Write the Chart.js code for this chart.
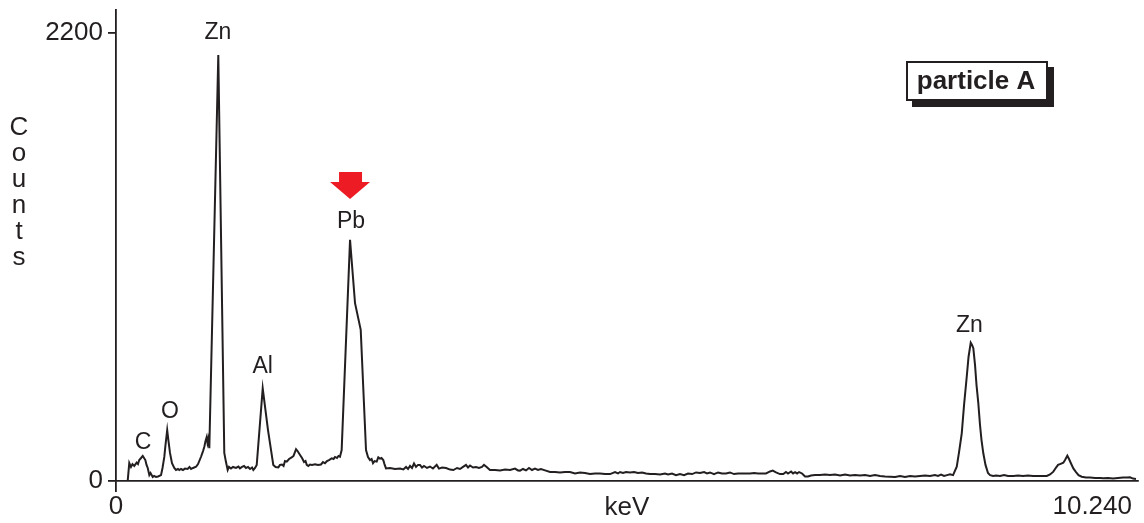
<!DOCTYPE html>
<html>
<head>
<meta charset="utf-8">
<script src="https://cdn.jsdelivr.net/npm/chart.js@4.4.1/dist/chart.umd.min.js"></script>
<style>
  html, body { margin: 0; padding: 0; background: #fff; }
  canvas { display: block; }
</style>
</head>
<body>
<canvas id="spectrum" width="1144" height="523"></canvas>
<script>
// EDS spectrum (keV vs counts)
const energyKeV = [
  0.117, 0.133, 0.150, 0.165, 0.183, 0.207, 0.220, 0.233, 0.251, 0.268, 0.281, 0.294, 0.306, 0.318,
  0.334, 0.346, 0.368, 0.381, 0.401, 0.421, 0.451, 0.466, 0.484, 0.496, 0.513, 0.526, 0.541, 0.561,
  0.584, 0.601, 0.621, 0.634, 0.651, 0.671, 0.691, 0.718, 0.736, 0.752, 0.772, 0.802, 0.822, 0.852,
  0.872, 0.885, 0.897, 0.909, 0.917, 0.925, 0.935, 1.025, 1.085, 1.102, 1.119, 1.132, 1.152, 1.172,
  1.202, 1.227, 1.242, 1.263, 1.283, 1.303, 1.323, 1.343, 1.363, 1.376, 1.393, 1.410, 1.470, 1.523,
  1.576, 1.599, 1.627, 1.643, 1.663, 1.679, 1.693, 1.711, 1.734, 1.760, 1.779, 1.804, 1.819, 1.844,
  1.864, 1.884, 1.899, 1.911, 1.927, 1.944, 1.964, 1.994, 2.024, 2.054, 2.074, 2.094, 2.114, 2.134,
  2.161, 2.180, 2.194, 2.214, 2.229, 2.244, 2.261, 2.345, 2.395, 2.452, 2.505, 2.525, 2.545, 2.561,
  2.575, 2.591, 2.612, 2.628, 2.645, 2.660, 2.678, 2.690, 2.705, 2.745, 2.796, 2.846, 2.879, 2.906,
  2.926, 2.946, 2.966, 2.986, 3.006, 3.026, 3.046, 3.066, 3.086, 3.116, 3.146, 3.176, 3.213, 3.236,
  3.267, 3.307, 3.347, 3.380, 3.417, 3.447, 3.477, 3.507, 3.527, 3.547, 3.577, 3.607, 3.637, 3.667,
  3.687, 3.714, 3.747, 3.798, 3.848, 3.898, 3.948, 3.998, 4.028, 4.048, 4.078, 4.108, 4.138, 4.168,
  4.198, 4.228, 4.258, 4.299, 4.349, 4.399, 4.449, 4.499, 4.549, 4.599, 4.649, 4.699, 4.749, 4.800,
  4.850, 4.900, 4.950, 5.000, 5.030, 5.050, 5.080, 5.110, 5.150, 5.190, 5.230, 5.271, 5.311, 5.351,
  5.401, 5.451, 5.501, 5.531, 5.571, 5.611, 5.651, 5.691, 5.731, 5.772, 5.812, 5.852, 5.892, 5.922,
  5.952, 5.992, 6.032, 6.072, 6.112, 6.152, 6.192, 6.232, 6.273, 6.313, 6.353, 6.393, 6.433, 6.473,
  6.513, 6.553, 6.580, 6.613, 6.653, 6.686, 6.713, 6.733, 6.764, 6.784, 6.804, 6.824, 6.844, 6.874,
  6.904, 6.934, 6.964, 7.004, 7.054, 7.104, 7.154, 7.204, 7.255, 7.305, 7.355, 7.405, 7.455, 7.505,
  7.555, 7.605, 7.655, 7.705, 7.756, 7.806, 7.856, 7.906, 7.956, 8.006, 8.056, 8.106, 8.156, 8.206,
  8.236, 8.267, 8.297, 8.327, 8.357, 8.387, 8.424, 8.447, 8.474, 8.497, 8.524, 8.542, 8.564, 8.577,
  8.590, 8.607, 8.622, 8.640, 8.657, 8.672, 8.690, 8.712, 8.737, 8.758, 8.788, 8.818, 8.858, 8.898,
  8.938, 8.991, 9.038, 9.088, 9.138, 9.188, 9.238, 9.289, 9.326, 9.359, 9.392, 9.419, 9.439, 9.459,
  9.492, 9.509, 9.532, 9.549, 9.569, 9.592, 9.619, 9.644, 9.676, 9.719, 9.760, 9.810, 9.860, 9.893,
  9.940, 9.990, 10.040, 10.090, 10.130, 10.160, 10.190, 10.220
];
const counts = [
  0, 88, 69, 83, 74, 90, 83, 103, 113, 123, 113, 103, 79, 64,
  29, 39, 20, 25, 20, 22, 29, 64, 118, 177, 250, 196, 138, 88,
  64, 54, 59, 54, 59, 54, 61, 59, 69, 59, 64, 70, 83, 119,
  147, 168, 196, 216, 187, 206, 161, 2092, 138, 93, 54, 69, 61, 69,
  64, 71, 62, 69, 74, 64, 69, 59, 66, 54, 64, 79, 455, 250,
  79, 69, 67, 79, 81, 74, 98, 95, 108, 116, 123, 156, 147, 128,
  113, 93, 98, 79, 74, 81, 79, 82, 79, 81, 93, 87, 98, 103,
  111, 108, 118, 113, 123, 119, 152, 1184, 873, 742, 152, 118, 103, 108,
  88, 98, 95, 116, 110, 113, 103, 83, 62, 64, 59, 61, 57, 69,
  59, 74, 64, 86, 69, 79, 79, 66, 74, 64, 71, 61, 79, 61,
  66, 64, 56, 54, 64, 59, 69, 79, 66, 76, 66, 69, 64, 69,
  79, 69, 54, 54, 52, 56, 54, 61, 52, 51, 59, 52, 64, 54,
  61, 54, 59, 52, 44, 44, 42, 44, 44, 37, 42, 39, 34, 37,
  37, 34, 34, 44, 37, 44, 39, 44, 42, 44, 39, 42, 37, 34,
  34, 32, 37, 32, 37, 29, 34, 29, 37, 34, 42, 39, 44, 37,
  42, 34, 42, 37, 37, 42, 34, 37, 37, 37, 37, 39, 37, 37,
  37, 47, 51, 42, 34, 34, 44, 37, 47, 37, 43, 37, 44, 37,
  22, 22, 27, 29, 29, 32, 29, 32, 27, 32, 27, 29, 27, 29,
  25, 29, 25, 22, 21, 20, 25, 20, 25, 22, 25, 27, 25, 29,
  25, 32, 25, 29, 33, 29, 70, 142, 234, 373, 512, 609, 679, 668,
  652, 570, 471, 382, 275, 201, 136, 79, 39, 29, 25, 27, 25, 29,
  25, 25, 27, 25, 27, 25, 25, 25, 25, 32, 46, 66, 79, 83,
  90, 103, 124, 108, 86, 62, 44, 29, 21, 17, 17, 15, 15, 13,
  15, 12, 15, 17, 17, 18, 12, 10
];

const yTickValues = [0, 2200];
const yTickLabels = ['0', '2200'];
const xTickValues = [0];
const xTickLabels = ['0', '10.240'];
const xTickLabelKeV = [0, 10.24];

// peak labels: name, keV and label height in counts
const peakNames = ['C', 'O', 'Zn', 'Al', 'Pb', 'Zn'];
const peakLabelKeV = [0.27, 0.54, 1.02, 1.47, 2.355, 8.55];
const peakLabelCounts = [187, 339, 2200, 560, 1272, 761];

const INK = '#231f20';
const FONT = '"Liberation Sans", Arial, Helvetica, sans-serif';

const points = energyKeV.map((e, i) => ({ x: e, y: counts[i] }));

const decorPlugin = {
  id: 'decor',
  afterDraw(chart) {
    const ctx = chart.ctx;
    const xs = chart.scales.x;
    const ys = chart.scales.y;
    ctx.save();
    ctx.fillStyle = INK;

    // y tick labels
    ctx.font = '26px ' + FONT;
    ctx.textBaseline = 'middle';
    ctx.textAlign = 'right';
    yTickValues.forEach((v, i) => {
      ctx.fillText(yTickLabels[i], chart.chartArea.left - 13, ys.getPixelForValue(v));
    });

    // x tick labels (last one sits flush right)
    ctx.textAlign = 'center';
    ctx.fillText(xTickLabels[0], xs.getPixelForValue(xTickLabelKeV[0]), 507);
    ctx.textAlign = 'right';
    ctx.fillText(xTickLabels[1], xs.getPixelForValue(xTickLabelKeV[1]) - 6, 507);

    // axis titles
    ctx.textAlign = 'center';
    ctx.fillText('keV', (chart.chartArea.left + chart.chartArea.right) / 2, 508);
    ctx.textBaseline = 'alphabetic';
    'Counts'.split('').forEach((ch, i) => {
      ctx.fillText(ch, 19, 135 + i * 26);
    });

    // peak labels
    ctx.font = '23px ' + FONT;
    ctx.textBaseline = 'middle';
    peakNames.forEach((name, i) => {
      ctx.fillText(name, xs.getPixelForValue(peakLabelKeV[i]), ys.getPixelForValue(peakLabelCounts[i]));
    });

    // red arrow above Pb
    const ax = xs.getPixelForValue(2.345);
    const atop = ys.getPixelForValue(1272) - 50;
    ctx.fillStyle = '#ed1c24';
    ctx.beginPath();
    ctx.moveTo(ax - 11, atop);
    ctx.lineTo(ax + 12, atop);
    ctx.lineTo(ax + 12, atop + 10);
    ctx.lineTo(ax + 20, atop + 10);
    ctx.lineTo(ax, atop + 27);
    ctx.lineTo(ax - 20, atop + 10);
    ctx.lineTo(ax - 11, atop + 10);
    ctx.closePath();
    ctx.fill();

    // "particle A" box with drop shadow
    const bx = 906, by = 61, bw = 142, bh = 40;
    ctx.fillStyle = INK;
    ctx.fillRect(bx + 6, by + 6, bw, bh);
    ctx.fillStyle = '#fff';
    ctx.fillRect(bx, by, bw, bh);
    ctx.strokeStyle = INK;
    ctx.lineWidth = 2;
    ctx.strokeRect(bx + 1, by + 1, bw - 2, bh - 2);
    ctx.fillStyle = INK;
    ctx.font = 'bold 26px ' + FONT;
    ctx.textAlign = 'center';
    ctx.textBaseline = 'middle';
    ctx.fillText('particle A', bx + bw / 2 - 1, by + bh / 2 + 1);

    ctx.restore();
  }
};

new Chart(document.getElementById('spectrum'), {
  type: 'line',
  data: {
    datasets: [{
      data: points,
      borderColor: INK,
      borderWidth: 2,
      pointRadius: 0,
      tension: 0,
      fill: false,
    }]
  },
  options: {
    responsive: false,
    animation: false,
    layout: { padding: { left: 0, right: 6, top: 10, bottom: 0 } },
    plugins: { legend: { display: false }, tooltip: { enabled: false } },
    scales: {
      x: {
        type: 'linear',
        min: 0,
        max: 10.24,
        afterBuildTicks: (axis) => { axis.ticks = xTickValues.map(v => ({ value: v })); },
        afterFit: (axis) => { axis.height = 42; },
        ticks: { display: false },
        grid: { display: true, drawOnChartArea: false, drawTicks: true, tickLength: 11, color: INK, lineWidth: 1.8 },
        border: { display: true, color: INK, width: 1.8 },
      },
      y: {
        type: 'linear',
        min: 0,
        max: 2313,
        afterBuildTicks: (axis) => { axis.ticks = yTickValues.map(v => ({ value: v })); },
        afterFit: (axis) => { axis.width = 116; },
        ticks: { display: false },
        grid: { display: true, drawOnChartArea: false, drawTicks: true, tickLength: 8, color: INK, lineWidth: 1.8 },
        border: { display: true, color: INK, width: 1.8 },
      }
    }
  },
  plugins: [decorPlugin]
});
</script>
</body>
</html>
